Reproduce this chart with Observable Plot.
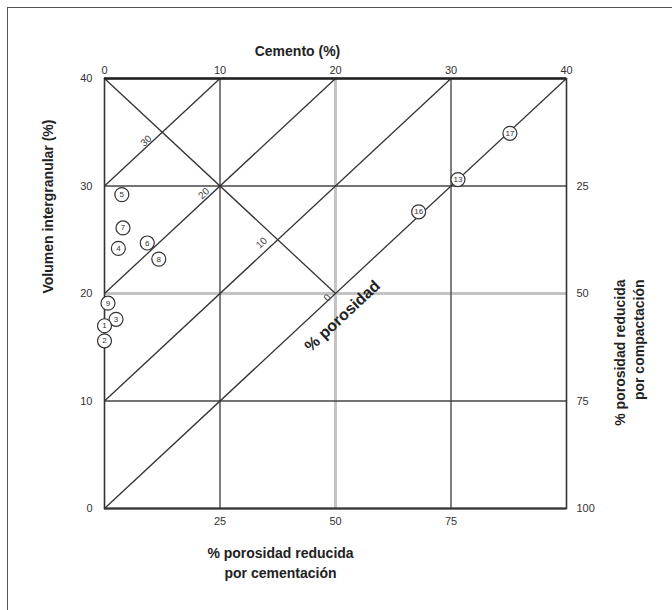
<!DOCTYPE html>
<html>
<head>
<meta charset="utf-8">
<script src="https://cdn.jsdelivr.net/npm/d3@7"></script>
<script src="https://cdn.jsdelivr.net/npm/@observablehq/plot@0.6"></script>
<style>
  html, body { margin: 0; padding: 0; background: #fff; }
  #wrap { position: relative; width: 672px; height: 610px; overflow: hidden; }
  #border { position: absolute; left: 7px; top: 7px; width: 800px; height: 800px;
            border-left: 1.5px solid #555; border-top: 1.5px solid #555; pointer-events: none; }
  svg { font-family: "Liberation Sans", Arial, sans-serif; }
</style>
</head>
<body>
<div id="wrap"><div id="border"></div></div>
<script>
// ---- data ----
const topTicks = [0, 10, 20, 30, 40];          // Cemento (%)
const leftTicks = [0, 10, 20, 30, 40];         // Volumen intergranular (%)
const bottomTickPos = [10, 20, 30];
const bottomTickLabels = [25, 50, 75];         // % porosidad reducida por cementación
const rightTickPos = [0, 10, 20, 30];
const rightTickLabels = [100, 75, 50, 25];     // % porosidad reducida por compactación

const darkGridX = [10, 30];
const darkGridY = [10, 30];
const lightGridX = [20];
const lightGridY = [20];

// porosity lines: y = x + porosity
const porosity = [30, 20, 10, 0];
const porosityLabelX = [3.6, 8.6, 13.6, 19.3];
const porosityLabelY = [34.2, 29.3, 24.7, 19.6];

// anti-diagonal line
const antiX = [0, 20];
const antiY = [40, 20];

// samples
const sampleId = ["5", "7", "4", "6", "8", "9", "3", "1", "2", "17", "13", "16"];
const sampleCement = [1.5, 1.6, 1.2, 3.7, 4.7, 0.3, 1.0, 0.0, 0.0, 35.1, 30.6, 27.2];
const sampleVolume = [29.2, 26.1, 24.2, 24.7, 23.2, 19.1, 17.6, 17.0, 15.6, 34.9, 30.6, 27.6];

// ---- build ----
const samples = sampleId.map((id, i) => ({id, x: sampleCement[i], y: sampleVolume[i]}));
const porLines = porosity.map(p => ({x1: 0, y1: p, x2: 40 - p, y2: 40}));
const porLabels = porosity.map((p, i) => ({t: String(p), x: porosityLabelX[i], y: porosityLabelY[i]}));
const bottomMap = new Map(bottomTickPos.map((d, i) => [d, bottomTickLabels[i]]));
const rightMap = new Map(rightTickPos.map((d, i) => [d, rightTickLabels[i]]));
const angle = -43;

const chart = Plot.plot({
  width: 672,
  height: 610,
  marginLeft: 104,
  marginRight: 106,
  marginTop: 78,
  marginBottom: 102,
  x: {domain: [0, 40]},
  y: {domain: [0, 40]},
  style: {fontFamily: "Liberation Sans, Arial, sans-serif", background: "#fff"},
  marks: [
    Plot.ruleX(lightGridX, {stroke: "#c4c4c4", strokeWidth: 3}),
    Plot.ruleY(lightGridY, {stroke: "#c4c4c4", strokeWidth: 3}),
    Plot.ruleX(darkGridX, {stroke: "#555", strokeWidth: 1.5}),
    Plot.ruleY(darkGridY, {stroke: "#444", strokeWidth: 1.6}),
    Plot.link(porLines, {x1: "x1", y1: "y1", x2: "x2", y2: "y2", stroke: "#333", strokeWidth: 1.3}),
    Plot.link([{x1: antiX[0], y1: antiY[0], x2: antiX[1], y2: antiY[1]}],
      {x1: "x1", y1: "y1", x2: "x2", y2: "y2", stroke: "#333", strokeWidth: 1.3}),
    Plot.frame({stroke: "#333", strokeWidth: 1.6}),
    Plot.ruleY([40], {stroke: "#222", strokeWidth: 2.5}),
    Plot.ruleY([0], {stroke: "#333", strokeWidth: 2}),
    Plot.text(porLabels, {x: "x", y: "y", text: "t", rotate: angle, fontSize: 10, fill: "#444"}),
    Plot.text(["% porosidad"], {x: 20.6, y: 17.9, rotate: angle, fontSize: 16, fontWeight: "bold", fill: "#222"}),
    Plot.dot(samples, {x: "x", y: "y", r: 7, fill: "white", stroke: "#333", strokeWidth: 1.2}),
    Plot.text(samples, {x: "x", y: "y", text: "id", fontSize: 8, fill: "#333"}),
    Plot.axisX(topTicks, {anchor: "top", tickSize: 0, tickPadding: 5, fontSize: 11, fill: "#333", label: null}),
    Plot.axisX(bottomTickPos, {anchor: "bottom", tickSize: 0, tickPadding: 9, fontSize: 11, fill: "#333", label: null,
      tickFormat: d => bottomMap.get(d)}),
    Plot.axisY(leftTicks, {anchor: "left", tickSize: 0, tickPadding: 12, fontSize: 11, fill: "#333", label: null}),
    Plot.axisY(rightTickPos, {anchor: "right", tickSize: 0, tickPadding: 10, fontSize: 11, fill: "#333", label: null,
      tickFormat: d => rightMap.get(d)}),
    Plot.text(["Cemento (%)"], {frameAnchor: "top", dx: -38, dy: -32, fontSize: 14, fontWeight: "bold", fill: "#222"}),
    Plot.text(["Volumen intergranular (%)"], {frameAnchor: "left", dx: -56, dy: 0, rotate: -90, fontSize: 14, fontWeight: "bold", fill: "#222"}),
    Plot.text(["% porosidad reducida\npor cementación"], {frameAnchor: "bottom", lineAnchor: "middle", dx: -55, dy: 53,
      lineHeight: 1.4, fontSize: 14, fontWeight: "bold", fill: "#222"}),
    Plot.text(["% porosidad reducida\npor compactación"], {frameAnchor: "right", lineAnchor: "middle", dx: 62, dy: -14,
      rotate: -90, lineHeight: 1.35, fontSize: 14, fontWeight: "bold", fill: "#222"})
  ]
});
document.getElementById("wrap").appendChild(chart);
chart.style.position = "absolute";
chart.style.left = "0";
chart.style.top = "0";
document.getElementById("border").style.zIndex = "2";
</script>
</body>
</html>
